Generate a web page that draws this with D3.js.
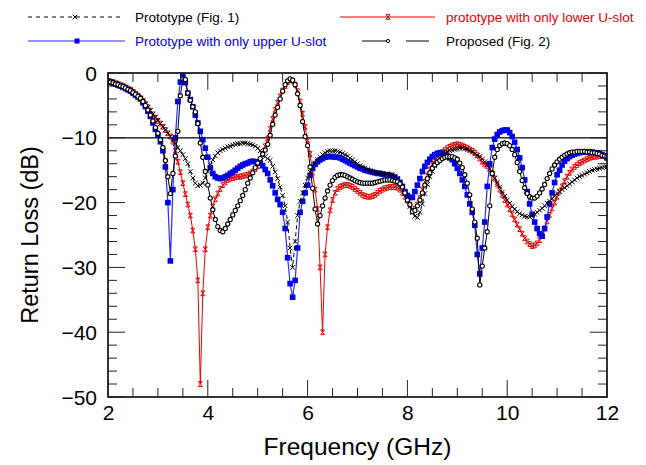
<!DOCTYPE html>
<html><head><meta charset="utf-8">
<script src="https://cdn.jsdelivr.net/npm/d3@7"></script>
<style>
html,body{margin:0;padding:0;background:#fff;}
svg{display:block;font-family:"Liberation Sans",Arial,Helvetica,sans-serif;}
</style></head><body>
<svg id="chart" width="646" height="465"></svg>
<script>
// sampling of the frequency axis (GHz)
const freqStart = 2, freqStep = 0.05;
const xTickLabels = [2, 4, 6, 8, 10, 12];
const yTickLabels = [0, -10, -20, -30, -40, -50];
const legendNames = ["Prototype (Fig. 1)", "prototype with only lower U-slot", "Prototype with only upper U-slot", "Proposed (Fig. 2)"];

// Return loss (dB), 2.00 .. 12.00 GHz every 0.05 GHz (one row = 1 GHz)
const prototypeFig1 = [
 -1.2,-1.3,-1.4,-1.5,-1.7,-1.8,-2.0,-2.2,-2.4,-2.6,-2.9,-3.2,-3.5,-3.9,-4.3,-4.8,-5.3,-5.8,-6.3,-6.8,
 -7.3,-7.8,-8.3,-8.8,-9.3,-9.8,-10.3,-10.9,-11.5,-12.0,-12.6,-13.2,-14.0,-15.2,-16.2,-17.0,-17.4,-17.3,-17.0,-16.2,
 -15.2,-14.2,-13.4,-12.8,-12.3,-12.0,-11.8,-11.6,-11.4,-11.3,-11.1,-11.0,-10.9,-10.9,-10.8,-10.8,-10.9,-11.0,-11.1,-11.3,
 -11.6,-12.0,-12.4,-12.9,-13.2,-13.5,-14.4,-15.3,-16.3,-17.6,-18.9,-20.5,-23.0,-27.0,-30.0,-26.0,-22.0,-19.8,-18.5,-17.3,
 -16.2,-15.3,-14.5,-13.9,-13.4,-13.0,-12.6,-12.3,-12.1,-12.0,-12.0,-12.0,-12.1,-12.2,-12.4,-12.6,-12.8,-13.1,-13.4,-13.7,
 -14.0,-14.3,-14.5,-14.7,-14.9,-15.1,-15.2,-15.3,-15.4,-15.5,-15.5,-15.6,-15.6,-15.7,-15.7,-15.9,-16.3,-16.8,-17.6,-18.6,
 -19.6,-20.6,-21.5,-22.1,-22.3,-21.5,-20.2,-18.6,-17.2,-16.0,-15.2,-14.3,-13.6,-13.1,-12.8,-12.5,-12.2,-12.0,-11.9,-11.8,
 -11.7,-11.6,-11.6,-11.7,-11.8,-12.0,-12.2,-12.5,-12.7,-12.9,-13.3,-13.7,-14.2,-14.8,-15.5,-16.2,-16.9,-17.6,-18.4,-19.0,
 -19.6,-20.1,-20.6,-21.0,-21.4,-21.7,-21.9,-22.1,-22.2,-22.2,-22.0,-21.8,-21.5,-21.2,-20.9,-20.5,-20.1,-19.8,-19.4,-19.0,
 -18.6,-18.3,-18.0,-17.7,-17.4,-17.1,-16.8,-16.5,-16.2,-16.0,-15.8,-15.6,-15.4,-15.2,-15.0,-14.9,-14.8,-14.7,-14.6,-14.5,
 -14.5
];
const lowerSlot = [
 -1.2,-1.3,-1.4,-1.6,-1.7,-1.9,-2.0,-2.2,-2.4,-2.6,-2.9,-3.2,-3.5,-3.9,-4.3,-4.8,-5.3,-5.8,-6.4,-6.9,
 -7.4,-7.8,-8.3,-8.8,-9.3,-9.8,-10.6,-12.0,-13.7,-15.3,-17.0,-18.7,-20.3,-22.0,-24.3,-27.2,-32.0,-48.0,-34.0,-27.2,
 -23.8,-22.0,-20.6,-19.5,-18.6,-17.9,-17.3,-16.9,-16.5,-16.3,-16.2,-16.1,-16.0,-16.0,-15.9,-15.8,-15.7,-15.5,-15.2,-14.8,
 -14.4,-13.6,-12.5,-11.3,-10.1,-8.6,-7.1,-5.7,-4.6,-3.6,-2.7,-2.0,-1.4,-1.1,-1.2,-1.8,-2.8,-4.4,-6.3,-8.3,
 -10.4,-12.5,-15.4,-18.0,-21.0,-30.0,-40.0,-28.0,-23.8,-21.2,-19.6,-18.5,-17.9,-17.6,-17.4,-17.3,-17.3,-17.4,-17.6,-17.9,
 -18.2,-18.5,-18.8,-19.0,-19.1,-19.1,-19.0,-18.8,-18.5,-18.2,-18.0,-17.8,-17.7,-17.6,-17.6,-17.6,-17.7,-18.0,-18.5,-19.1,
 -19.7,-20.3,-21.3,-21.0,-20.3,-19.3,-18.0,-16.8,-15.8,-14.9,-14.1,-13.5,-13.0,-12.6,-12.2,-11.9,-11.6,-11.4,-11.2,-11.1,
 -11.0,-11.1,-11.2,-11.4,-11.6,-11.8,-12.0,-12.3,-12.7,-13.2,-13.7,-14.1,-14.4,-14.8,-15.5,-16.3,-17.2,-18.0,-18.8,-19.6,
 -20.3,-21.0,-21.8,-22.6,-23.4,-24.1,-24.8,-25.5,-26.0,-26.4,-26.7,-26.6,-26.3,-25.8,-25.0,-24.0,-22.9,-21.9,-20.9,-20.0,
 -19.1,-18.3,-17.5,-16.7,-16.0,-15.4,-14.9,-14.5,-14.2,-13.9,-13.7,-13.5,-13.3,-13.1,-13.0,-12.9,-12.9,-12.8,-12.8,-12.8,
 -12.9
];
const upperSlot = [
 -1.3,-1.4,-1.6,-1.7,-1.9,-2.0,-2.2,-2.4,-2.6,-2.8,-3.1,-3.4,-3.7,-4.0,-4.6,-5.2,-5.9,-6.7,-7.7,-8.7,
 -9.6,-10.6,-12.0,-14.5,-20.0,-29.0,-18.0,-10.0,-4.4,-1.4,-0.5,-1.5,-3.1,-4.1,-5.2,-6.5,-7.7,-9.0,-10.3,-11.6,
 -13.0,-14.6,-15.5,-16.0,-16.2,-16.3,-16.2,-16.0,-15.8,-15.5,-15.3,-15.0,-14.7,-14.4,-14.2,-14.0,-13.9,-13.7,-13.6,-13.7,
 -13.8,-13.9,-14.3,-14.9,-15.5,-16.5,-17.4,-18.5,-19.5,-20.3,-21.5,-24.0,-28.5,-32.5,-34.6,-32.0,-27.0,-21.5,-19.8,-18.5,
 -17.3,-15.8,-14.7,-14.1,-13.7,-13.4,-13.2,-13.0,-12.9,-12.9,-12.9,-13.0,-13.0,-13.1,-13.3,-13.5,-13.7,-13.9,-14.1,-14.3,
 -14.5,-14.7,-14.8,-15.0,-15.1,-15.2,-15.3,-15.4,-15.5,-15.5,-15.6,-15.7,-15.7,-15.8,-16.0,-16.1,-16.4,-16.9,-17.5,-18.3,
 -18.9,-19.2,-19.2,-18.3,-17.3,-16.3,-15.2,-14.4,-13.8,-13.3,-12.9,-12.6,-12.4,-12.3,-12.4,-12.6,-12.8,-13.1,-13.4,-14.0,
 -14.7,-15.5,-16.5,-17.5,-18.8,-20.2,-21.5,-23.5,-28.0,-31.0,-27.0,-23.0,-17.5,-14.0,-11.5,-10.2,-9.5,-9.1,-8.9,-8.8,
 -8.8,-9.2,-9.8,-10.7,-11.8,-13.1,-14.6,-16.5,-18.3,-20.2,-21.8,-23.0,-24.0,-24.8,-25.2,-24.0,-22.2,-20.2,-18.5,-16.9,
 -15.7,-15.0,-14.2,-13.6,-13.2,-12.9,-12.7,-12.5,-12.4,-12.3,-12.2,-12.2,-12.2,-12.2,-12.2,-12.3,-12.3,-12.4,-12.6,-12.8,
 -13.1
];
const proposedFig2 = [
 -1.3,-1.4,-1.5,-1.7,-1.8,-2.0,-2.1,-2.3,-2.5,-2.7,-3.0,-3.3,-3.6,-3.9,-4.4,-5.0,-5.7,-6.5,-7.4,-8.4,
 -9.3,-10.3,-11.5,-13.5,-16.0,-18.6,-15.5,-12.8,-9.0,-3.5,-0.9,-1.0,-3.1,-4.2,-5.2,-6.0,-7.8,-10.8,-13.0,-15.2,
 -17.3,-19.3,-21.1,-22.6,-23.7,-24.3,-24.5,-24.0,-23.3,-22.6,-21.9,-21.2,-20.5,-19.7,-18.9,-18.0,-17.0,-16.2,-15.4,-14.6,
 -13.9,-13.2,-12.5,-11.9,-11.0,-9.6,-7.9,-6.5,-5.3,-4.0,-2.8,-1.8,-1.2,-0.9,-1.1,-1.8,-3.2,-5.0,-7.5,-9.8,
 -11.2,-14.5,-17.8,-21.0,-23.3,-22.0,-20.5,-19.3,-18.2,-17.3,-16.6,-16.1,-15.8,-15.7,-15.7,-15.8,-16.0,-16.2,-16.4,-16.6,
 -16.8,-16.9,-17.0,-17.0,-17.0,-17.0,-17.0,-16.9,-16.8,-16.7,-16.6,-16.5,-16.5,-16.5,-16.6,-16.7,-16.8,-17.1,-17.6,-18.5,
 -19.6,-20.3,-21.4,-21.2,-20.5,-19.6,-18.5,-17.3,-16.3,-15.4,-14.7,-14.2,-13.8,-13.5,-13.2,-13.0,-12.9,-12.9,-12.9,-13.1,
 -13.3,-13.9,-14.6,-15.7,-17.0,-18.8,-21.0,-23.0,-25.5,-32.7,-29.8,-27.0,-24.5,-20.5,-15.5,-13.0,-11.8,-11.2,-10.9,-10.8,
 -10.9,-11.2,-11.8,-12.6,-13.8,-15.2,-16.6,-17.7,-18.6,-19.1,-19.3,-19.3,-19.0,-18.5,-17.9,-17.2,-16.3,-15.5,-14.8,-14.2,
 -13.7,-13.3,-13.0,-12.7,-12.5,-12.3,-12.2,-12.2,-12.1,-12.1,-12.1,-12.1,-12.2,-12.2,-12.3,-12.3,-12.4,-12.5,-12.7,-12.8,
 -12.9
];
const freq = prototypeFig1.map((_, i) => +(freqStart + i * freqStep).toFixed(2));

const RED = "#e60000", BLUE = "#0000e6", BLUE_LINE = "#2a2aff", BLACK = "#000";

const svg = d3.select("#chart");
const L = 108, R = 607, T = 73, B = 397;
const x = d3.scaleLinear().domain([2, 12]).range([L, R]);
const y = d3.scaleLinear().domain([0, -50]).range([T, B]);

svg.append("defs").append("clipPath").attr("id", "plotclip")
  .append("rect").attr("x", L).attr("y", T - 3).attr("width", R - L).attr("height", B - T + 6);

// -10 dB reference line
svg.append("line").attr("x1", L).attr("x2", R).attr("y1", y(-10)).attr("y2", y(-10))
  .attr("stroke", "#000").attr("stroke-width", 1.2);

const plot = svg.append("g").attr("clip-path", "url(#plotclip)");
const line = d3.line().x((d, i) => x(freq[i])).y(d => y(d));

const xPath = "M-2.3,-2.3L2.3,2.3M-2.3,2.3L2.3,-2.3";
const redPath = "M-2.2,-2.4L2.2,2.4M-2.2,2.4L2.2,-2.4M-1.8,-2.4H1.8M-1.8,2.4H1.8";

// lower U-slot (red)
plot.append("path").datum(lowerSlot).attr("d", line).attr("fill", "none")
  .attr("stroke", RED).attr("stroke-width", 1);
plot.append("g").selectAll("path").data(lowerSlot).join("path")
  .attr("transform", (d, i) => `translate(${x(freq[i])},${y(d)})`)
  .attr("d", redPath).attr("stroke", RED).attr("stroke-width", 1).attr("fill", "none");

// upper U-slot (blue)
plot.append("path").datum(upperSlot).attr("d", line).attr("fill", "none")
  .attr("stroke", BLUE_LINE).attr("stroke-width", 1.2);
plot.append("g").selectAll("rect").data(upperSlot).join("rect")
  .attr("x", (d, i) => x(freq[i]) - 2.8).attr("y", d => y(d) - 2.8)
  .attr("width", 5.6).attr("height", 5.6).attr("fill", BLUE);

// prototype fig 1 (black dashed, x)
plot.append("path").datum(prototypeFig1).attr("d", line).attr("fill", "none")
  .attr("stroke", BLACK).attr("stroke-width", 1).attr("stroke-dasharray", "4,3");
plot.append("g").selectAll("path").data(prototypeFig1).join("path")
  .attr("transform", (d, i) => `translate(${x(freq[i])},${y(d)})`)
  .attr("d", xPath).attr("stroke", BLACK).attr("stroke-width", 1).attr("fill", "none");

// proposed fig 2 (black, circles)
plot.append("path").datum(proposedFig2).attr("d", line).attr("fill", "none")
  .attr("stroke", BLACK).attr("stroke-width", 1);
plot.append("g").selectAll("circle").data(proposedFig2).join("circle")
  .attr("cx", (d, i) => x(freq[i])).attr("cy", d => y(d)).attr("r", 2.1)
  .attr("fill", "#fff").attr("stroke", BLACK).attr("stroke-width", 1.1);

// frame
svg.append("rect").attr("x", L).attr("y", T).attr("width", R - L).attr("height", B - T)
  .attr("fill", "none").attr("stroke", "#000").attr("stroke-width", 1.6);

// ticks (inward on all sides)
const tk = svg.append("g").attr("stroke", "#222").attr("stroke-width", 1);
const xMinor = d3.range(2, 12.001, 0.5);
xMinor.forEach(v => {
  const major = Math.abs(v % 2) < 1e-9;
  const len = major ? 17 : 9;
  tk.append("line").attr("x1", x(v)).attr("x2", x(v)).attr("y1", B).attr("y2", B - len);
  tk.append("line").attr("x1", x(v)).attr("x2", x(v)).attr("y1", T).attr("y2", T + len);
});
const yMinor = d3.range(0, -50.001, -2);
yMinor.forEach(v => {
  const major = Math.abs(v % 10) < 1e-9;
  const len = major ? 17 : 9;
  tk.append("line").attr("x1", L).attr("x2", L + len).attr("y1", y(v)).attr("y2", y(v));
  tk.append("line").attr("x1", R).attr("x2", R - len).attr("y1", y(v)).attr("y2", y(v));
});

// tick labels via axes
const xAxis = svg.append("g").attr("transform", `translate(0,${B})`)
  .call(d3.axisBottom(x).tickValues(xTickLabels).tickSize(0).tickPadding(8).tickFormat(d3.format("d")));
const yAxis = svg.append("g").attr("transform", `translate(${L},0)`)
  .call(d3.axisLeft(y).tickValues(yTickLabels).tickSize(0).tickPadding(11).tickFormat(d3.format("d")));
[xAxis, yAxis].forEach(a => {
  a.select(".domain").remove();
  a.selectAll("text").attr("font-size", 21).attr("fill", "#000")
    .attr("font-family", '"Liberation Sans",Arial,sans-serif');
});
yAxis.selectAll("text").attr("dy", "0.34em");

// axis titles
svg.append("text").attr("x", (L + R) / 2).attr("y", 455).attr("text-anchor", "middle")
  .attr("font-size", 24.5).text("Frequency (GHz)");
svg.append("text").attr("transform", `translate(38,${(T + B) / 2}) rotate(-90)`)
  .attr("text-anchor", "middle").attr("font-size", 23.5).text("Return Loss (dB)");

// legend
const lg = svg.append("g").attr("font-size", 13.5);
lg.append("line").attr("x1", 28).attr("x2", 123).attr("y1", 17).attr("y2", 17)
  .attr("stroke", BLACK).attr("stroke-dasharray", "4,4");
lg.append("path").attr("transform", "translate(75,17)").attr("d", xPath).attr("stroke", BLACK).attr("fill", "none");
lg.append("text").attr("x", 135).attr("y", 21.5).text(legendNames[0]);
lg.append("line").attr("x1", 340).attr("x2", 435).attr("y1", 17).attr("y2", 17).attr("stroke", RED);
lg.append("path").attr("transform", "translate(388,17)").attr("d", redPath).attr("stroke", RED).attr("fill", "none");
lg.append("text").attr("x", 446).attr("y", 21.5).attr("fill", RED).text(legendNames[1]);
lg.append("line").attr("x1", 28).attr("x2", 125).attr("y1", 41).attr("y2", 41).attr("stroke", BLUE_LINE).attr("stroke-width", 1.2);
lg.append("rect").attr("x", 74.5).attr("y", 38.5).attr("width", 5).attr("height", 5).attr("fill", BLUE);
lg.append("text").attr("x", 135).attr("y", 45.5).attr("fill", BLUE).text(legendNames[2]);
lg.append("line").attr("x1", 362).attr("x2", 387).attr("y1", 41).attr("y2", 41).attr("stroke", BLACK);
lg.append("circle").attr("cx", 388).attr("cy", 41).attr("r", 1.6).attr("fill", "#fff").attr("stroke", BLACK);
lg.append("line").attr("x1", 406).attr("x2", 429).attr("y1", 41).attr("y2", 41).attr("stroke", BLACK);
lg.append("text").attr("x", 446).attr("y", 45.5).text(legendNames[3]);
</script>
</body></html>
